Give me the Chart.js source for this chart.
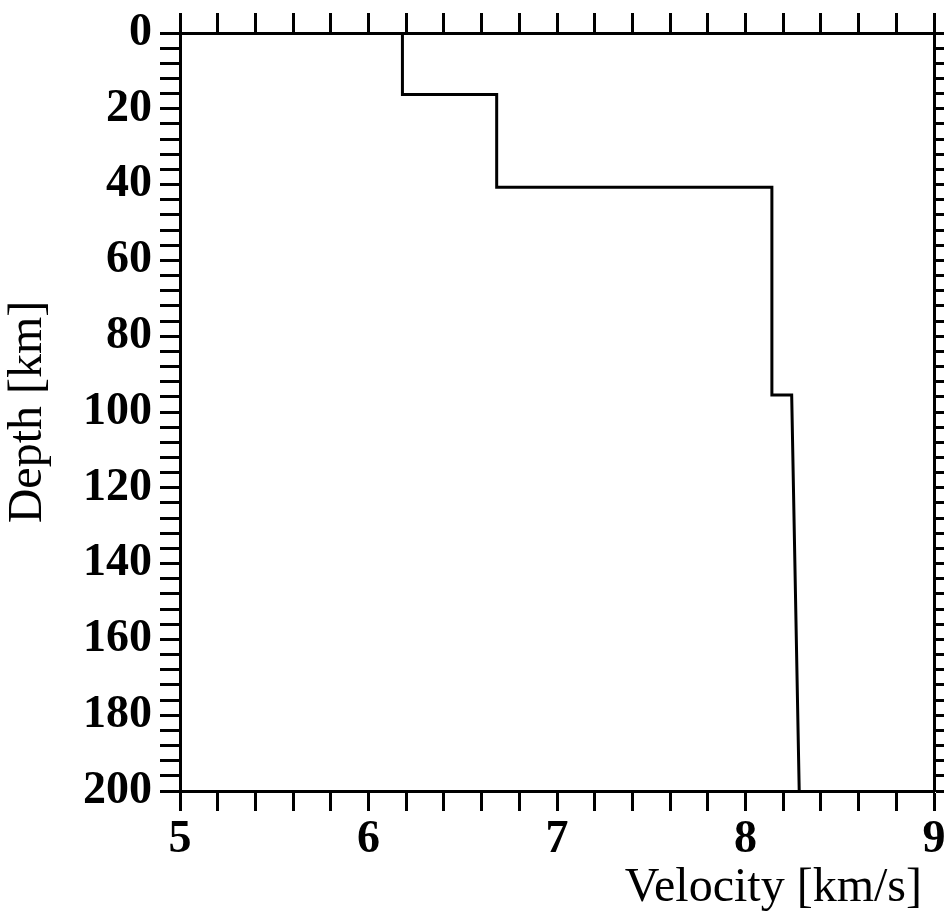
<!DOCTYPE html>
<html>
<head>
<meta charset="utf-8">
<script src="https://cdn.jsdelivr.net/npm/chart.js@4/dist/chart.umd.min.js"></script>
<style>
html,body{margin:0;padding:0;background:#fff;}
#wrap{width:944px;height:917px;}
</style>
</head>
<body>
<div id="wrap"><canvas id="c" width="944" height="917"></canvas></div>
<script>
const velocity = [6.18, 6.18, 6.68, 6.68, 8.14, 8.14, 8.245, 8.285];
const depth    = [0, 16.2, 16.2, 40.7, 40.7, 95.5, 95.5, 200];
const xTickLabels = ['5', '6', '7', '8', '9'];
const yTickLabels = ['0', '20', '40', '60', '80', '100', '120', '140', '160', '180', '200'];

const points = velocity.map((v, i) => ({x: v, y: depth[i]}));
const serif = "'Liberation Serif', 'DejaVu Serif', serif";

function xLabel(v) {
  const r = Math.round(v);
  if (Math.abs(v - r) < 1e-6) {
    const s = String(r);
    return xTickLabels.includes(s) ? s : '';
  }
  return '';
}
function yLabel(v) {
  const r = Math.round(v);
  if (Math.abs(v - r) < 1e-6 && r % 20 === 0) {
    const s = String(r);
    return yTickLabels.includes(s) ? s : '';
  }
  return '';
}
const gridCommon = {
  drawOnChartArea: false, drawTicks: true, tickLength: 20, tickWidth: 3, color: '#000'
};
const borderCommon = {display: true, width: 3, color: '#000'};
function noPad(s) { s.paddingLeft = 0; s.paddingRight = 0; s.paddingTop = 0; s.paddingBottom = 0; }

new Chart(document.getElementById('c'), {
  type: 'scatter',
  data: {
    datasets: [{
      data: points,
      showLine: true,
      borderColor: '#000',
      borderWidth: 3,
      pointRadius: 0,
      fill: false,
      tension: 0
    }]
  },
  options: {
    responsive: false,
    animation: false,
    layout: {padding: 0},
    plugins: {legend: {display: false}, tooltip: {enabled: false}},
    scales: {
      x: {
        type: 'linear', position: 'bottom', min: 5, max: 9,
        afterFit: s => { s.height = 126; noPad(s); },
        afterBuildTicks: s => { const t = []; for (let i = 0; i <= 20; i++) t.push({value: 5 + i * 0.2}); s.ticks = t; },
        ticks: {autoSkip: false, maxRotation: 0, padding: 2, color: '#000',
          font: {family: serif, size: 46, weight: 'bold'}, callback: v => xLabel(v)},
        grid: gridCommon, border: borderCommon,
        title: {display: true, text: 'Velocity [km/s] ', align: 'end', color: '#000',
          font: {family: serif, size: 48}, padding: {top: 0, bottom: 0}}
      },
      x2: {
        type: 'linear', position: 'top', min: 5, max: 9,
        afterFit: s => { s.height = 33; noPad(s); },
        afterBuildTicks: s => { const t = []; for (let i = 0; i <= 20; i++) t.push({value: 5 + i * 0.2}); s.ticks = t; },
        ticks: {autoSkip: false, display: false, callback: () => ''},
        grid: gridCommon, border: borderCommon
      },
      y: {
        type: 'linear', position: 'left', min: 0, max: 200, reverse: true,
        afterFit: s => { s.width = 180; noPad(s); },
        afterBuildTicks: s => { const t = []; for (let i = 0; i <= 50; i++) t.push({value: i * 4}); s.ticks = t; },
        ticks: {autoSkip: false, padding: 8, color: '#000',
          font: {family: serif, size: 46, weight: 'bold'}, callback: v => yLabel(v)},
        grid: gridCommon, border: borderCommon,
        title: {display: true, text: 'Depth [km]', color: '#000',
          font: {family: serif, size: 48}, padding: {top: 0, bottom: 0}}
      },
      y2: {
        type: 'linear', position: 'right', min: 0, max: 200, reverse: true,
        afterFit: s => { s.width = 10; noPad(s); },
        afterBuildTicks: s => { const t = []; for (let i = 0; i <= 50; i++) t.push({value: i * 4}); s.ticks = t; },
        ticks: {autoSkip: false, display: false, callback: () => ''},
        grid: gridCommon, border: borderCommon
      }
    }
  }
});
</script>
</body>
</html>
